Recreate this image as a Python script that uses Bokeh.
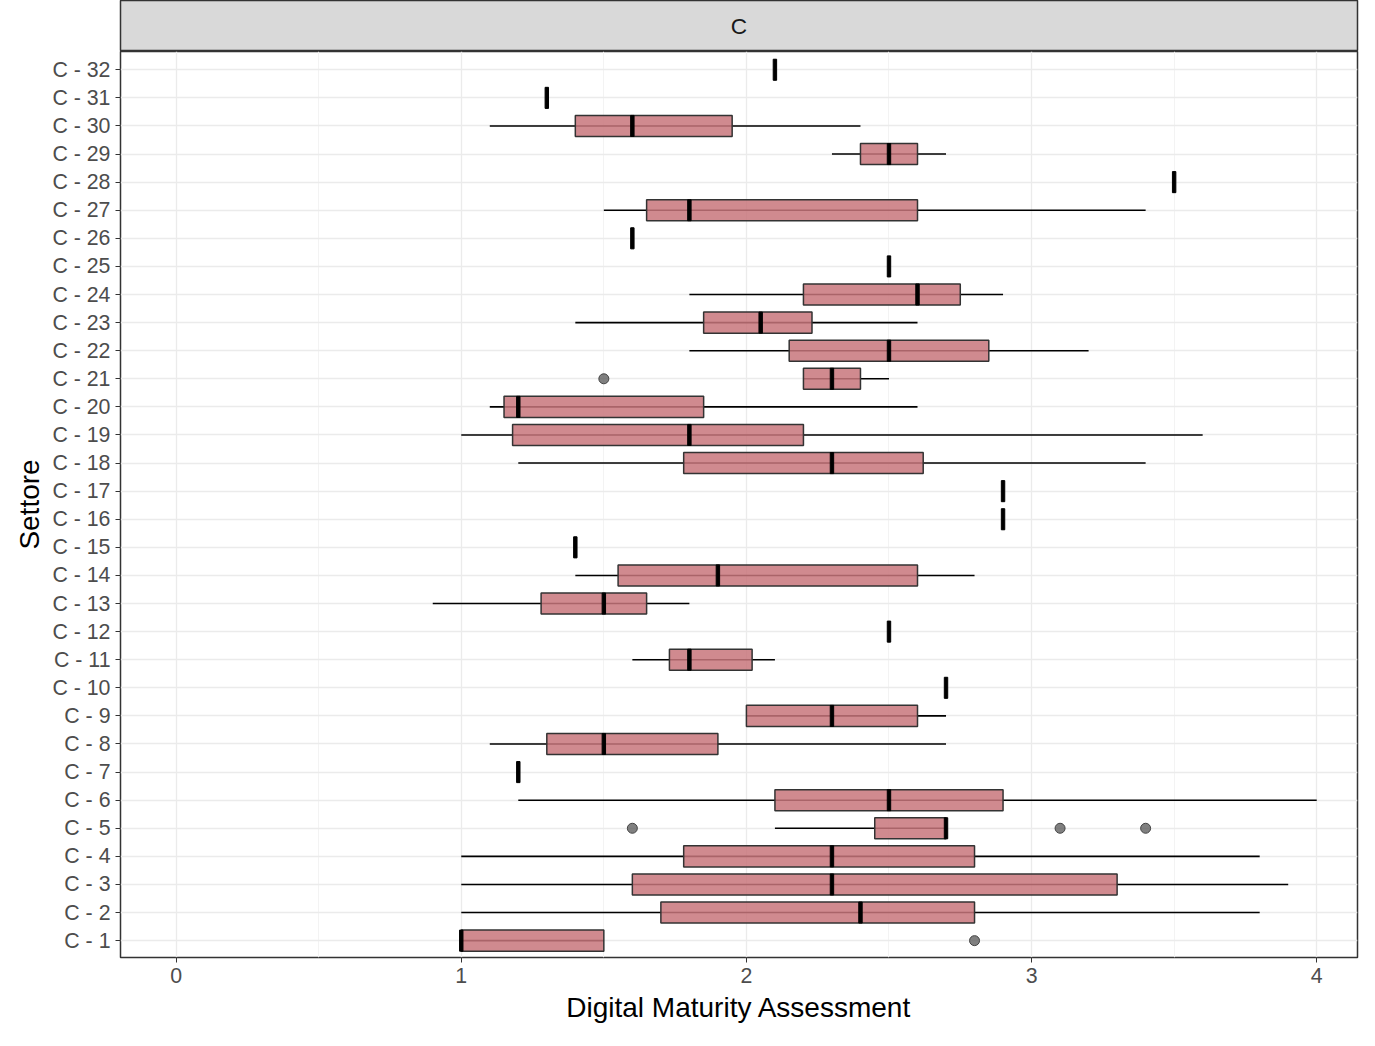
from bokeh.plotting import figure
from bokeh.models import FixedTicker, ColumnDataSource, Range1d, Label
from bokeh.layouts import column
from bokeh.embed import file_html
from bokeh.resources import INLINE

cats = [f"C - {i}" for i in range(1, 33)]
wlo = [1.0,1.0,1.0,1.0,2.1,1.2,1.2,1.1,2.0,2.7,1.6,2.5,0.9,1.4,1.4,2.9,2.9,1.2,1.0,1.1,2.2,1.8,1.4,1.8,2.5,1.6,1.5,3.5,2.3,1.1,1.3,2.1]
q1  = [1.0,1.7,1.6,1.78,2.45,2.1,1.2,1.3,2.0,2.7,1.73,2.5,1.28,1.55,1.4,2.9,2.9,1.78,1.18,1.15,2.2,2.15,1.85,2.2,2.5,1.6,1.65,3.5,2.4,1.4,1.3,2.1]
med = [1.0,2.4,2.3,2.3,2.7,2.5,1.2,1.5,2.3,2.7,1.8,2.5,1.5,1.9,1.4,2.9,2.9,2.3,1.8,1.2,2.3,2.5,2.05,2.6,2.5,1.6,1.8,3.5,2.5,1.6,1.3,2.1]
q3  = [1.5,2.8,3.3,2.8,2.7,2.9,1.2,1.9,2.6,2.7,2.02,2.5,1.65,2.6,1.4,2.9,2.9,2.62,2.2,1.85,2.4,2.85,2.23,2.75,2.5,1.6,2.6,3.5,2.6,1.95,1.3,2.1]
whi = [1.5,3.8,3.9,3.8,2.7,4.0,1.2,2.7,2.7,2.7,2.1,2.5,1.8,2.8,1.4,2.9,2.9,3.4,3.6,2.6,2.5,3.2,2.6,2.9,2.5,1.6,3.4,3.5,2.7,2.4,1.3,2.1]
out_cat = [1, 5, 5, 5, 21]
out_val = [2.8, 1.6, 3.1, 3.4, 1.5]
facet = "C"

y = list(range(1, 33))
src = ColumnDataSource(dict(y=y, wlo=wlo, q1=q1, med=med, q3=q3, whi=whi))

xr = Range1d(-0.195, 4.143)

strip = figure(width=1359, height=51, output_backend="svg", toolbar_location=None,
               x_range=xr, y_range=Range1d(0, 1),
               min_border_left=120, min_border_right=2, min_border_top=0, min_border_bottom=0)
strip.axis.visible = False
strip.grid.visible = False
strip.background_fill_color = "#d9d9d9"
strip.outline_line_color = "#333333"
strip.outline_line_width = 1.5
strip.add_layout(Label(x=(xr.start + xr.end) / 2, y=0.5, text=facet, text_align="center",
                       text_baseline="middle", text_font="Liberation Sans",
                       text_font_size="17pt", text_color="#1a1a1a"))

p = figure(width=1359, height=979, output_backend="svg", toolbar_location=None,
           x_range=xr, y_range=Range1d(0.4, 32.65),
           min_border_left=120, min_border_right=2, min_border_top=0, min_border_bottom=73)

p.background_fill_color = "white"
p.outline_line_color = "#333333"
p.outline_line_width = 1.5

p.segment(x0="wlo", x1="whi", y0="y", y1="y", source=src, line_color="black", line_width=1.6)
p.hbar(y="y", left="q1", right="q3", height=0.75, source=src, fill_color="#c8757b",
       fill_alpha=0.85, line_color="#333333", line_width=1.5)
p.rect(x="med", y="y", width=0.012, height=0.75, source=src, fill_color="black", line_color="black")
p.scatter(x=out_val, y=out_cat, size=10, fill_color="#555555", fill_alpha=0.75, line_color="#444444")

p.yaxis.ticker = FixedTicker(ticks=y)
p.yaxis.major_label_overrides = {i: c for i, c in zip(y, cats)}
p.xaxis.ticker = FixedTicker(ticks=[0, 1, 2, 3, 4], minor_ticks=[0.5, 1.5, 2.5, 3.5])
p.ygrid.ticker = FixedTicker(ticks=y)
p.xgrid.grid_line_color = "#ebebeb"
p.ygrid.grid_line_color = "#ebebeb"
p.xgrid.grid_line_width = 1.3
p.ygrid.grid_line_width = 1.3
p.xgrid.minor_grid_line_color = "#f3f3f3"

for ax in (p.xaxis, p.yaxis):
    ax.axis_line_color = None
    ax.major_tick_line_color = "#333333"
    ax.minor_tick_line_color = None
    ax.major_tick_out = 5
    ax.major_tick_in = 0
    ax.major_label_text_font = "Liberation Sans"
    ax.major_label_text_font_size = "16pt"
    ax.major_label_text_color = "#4d4d4d"
    ax.axis_label_text_font = "Liberation Sans"
    ax.axis_label_text_font_size = "21pt"
    ax.axis_label_text_font_style = "normal"
    ax.axis_label_text_color = "black"
p.xaxis.axis_label = "Digital Maturity Assessment"
p.yaxis.axis_label = "Settore"
p.yaxis.axis_label_standoff = 4
p.xaxis.axis_label_standoff = 6

layout = column(strip, p, spacing=0)
open("out.html", "w").write(file_html(layout, INLINE))
